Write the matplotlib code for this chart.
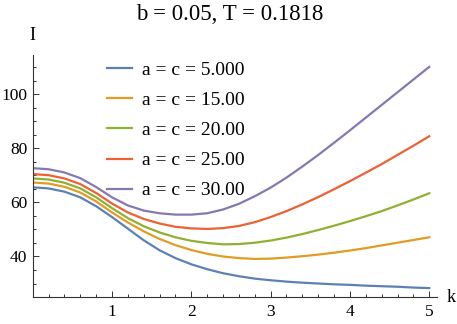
import matplotlib
matplotlib.use("Agg")
import matplotlib.pyplot as plt
from matplotlib.ticker import MultipleLocator
import numpy as np

# ── data (k step 0.2) ──
k = np.round(np.arange(0, 5.01, 0.2), 2)
I_a5 = [65.6, 65.2, 64.0, 61.9, 58.6, 54.6, 50.3, 46.0, 42.3, 39.4, 37.1,
        35.3, 33.8, 32.7, 31.8, 31.2, 30.7, 30.3, 30.0, 29.7, 29.5, 29.2,
        29.0, 28.8, 28.5, 28.3]
I_a15 = [67.4, 67.0, 65.8, 63.7, 60.4, 56.3, 52.6, 49.3, 46.5, 44.2, 42.4,
         41.0, 40.0, 39.4, 39.1, 39.2, 39.6, 40.1, 40.7, 41.4, 42.2, 43.1,
         44.1, 45.1, 46.1, 47.1]
I_a20 = [68.9, 68.5, 67.3, 65.2, 61.9, 57.9, 54.2, 51.2, 48.9, 47.1, 45.8,
         45.0, 44.5, 44.6, 45.1, 45.9, 47.0, 48.3, 49.8, 51.4, 53.1, 54.9,
         56.8, 58.9, 61.1, 63.4]
I_a25 = [70.5, 70.1, 68.9, 66.8, 63.5, 59.6, 56.3, 53.9, 52.2, 51.0, 50.4,
         50.2, 50.5, 51.3, 52.7, 54.6, 56.8, 59.3, 62.0, 64.9, 67.9, 71.0,
         74.2, 77.6, 81.0, 84.5]
I_a30 = [72.7, 72.3, 71.1, 69.0, 65.7, 61.9, 58.9, 57.0, 56.0, 55.5, 55.5,
         56.0, 57.4, 59.5, 62.3, 65.5, 69.2, 73.3, 77.6, 82.1, 86.7, 91.4,
         96.1, 100.8, 105.5, 110.2]

series = [I_a5, I_a15, I_a20, I_a25, I_a30]
labels = ["a = c = 5.000", "a = c = 15.00", "a = c = 20.00",
          "a = c = 25.00", "a = c = 30.00"]
colors = ["#5E81B5", "#E19C24", "#8FB032", "#EB6235", "#8778B3"]

plt.rcParams["font.family"] = ["Liberation Serif", "DejaVu Serif"]

fig = plt.figure(figsize=(4.57, 3.24), dpi=100)
ax = fig.add_axes([0.0716, 0.0833, 0.885, 0.747])

for y, lab, c in zip(series, labels, colors):
    ax.plot(k, y, color=c, lw=1.6, label=lab, solid_joinstyle="round")

ax.set_xlim(0, 5.1)
ax.set_ylim(25, 114.6)

# Mathematica-like axes
for side in ["top", "right"]:
    ax.spines[side].set_visible(False)
for side in ["left", "bottom"]:
    ax.spines[side].set_color("#333333")
    ax.spines[side].set_linewidth(0.8)

ax.set_xticks([1, 2, 3, 4, 5])
ax.set_yticks([40, 60, 80, 100])
ax.xaxis.set_minor_locator(MultipleLocator(0.2))
ax.yaxis.set_minor_locator(MultipleLocator(5))
ax.tick_params(which="both", direction="in", color="#333333", width=0.7,
               labelsize=12.5)
ax.tick_params(which="major", length=4.5)
ax.tick_params(which="minor", length=2.5)
ax.tick_params(axis="x", pad=5)
ax.tick_params(axis="y", pad=4)

ax.legend(loc="upper left", bbox_to_anchor=(0.164, 1.005), frameon=False,
          fontsize=14, handlelength=1.29, handletextpad=0.52,
          labelspacing=0.64, borderaxespad=0)

fig.text(0.503, 0.955, "b = 0.05, T = 0.1818", ha="center", va="center",
         fontsize=16.5)
fig.text(32 / 457, 1 - 36 / 324, "I", ha="center", va="center", fontsize=13)
fig.text(451 / 457, 1 - 297 / 324, "k", ha="center", va="center", fontsize=13)

fig.savefig("out.png", dpi=100)
